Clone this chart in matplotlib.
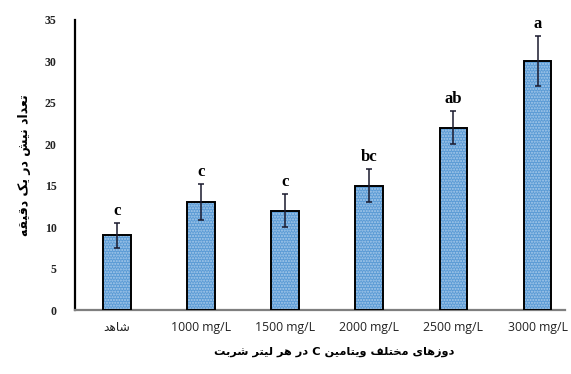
import numpy as np
import matplotlib
matplotlib.use('Agg')
from matplotlib import pyplot as plt

doses = ['شاهد', '1000 mg/L', '1500 mg/L', '2000 mg/L', '2500 mg/L', '3000 mg/L']
stings = [9, 13, 12, 15, 22, 30]
errors = [1.5, 2.2, 2.0, 2.0, 2.0, 3.0]
letters = ['c', 'c', 'c', 'bc', 'ab', 'a']

y_title = 'تعداد نیش در یک دقیقه'
x_title = 'دوزهای مختلف ویتامین C در هر لیتر شربت'

# presentation forms: isolated, final, initial, medial (right-joining letters have only two)
FORMS = {
    'ا': (0xFE8D, 0xFE8E), 'د': (0xFEA9, 0xFEAA), 'ر': (0xFEAD, 0xFEAE),
    'ز': (0xFEAF, 0xFEB0), 'و': (0xFEED, 0xFEEE),
    'ب': (0xFE8F, 0xFE90, 0xFE91, 0xFE92), 'ت': (0xFE95, 0xFE96, 0xFE97, 0xFE98),
    'خ': (0xFEA5, 0xFEA6, 0xFEA7, 0xFEA8), 'ش': (0xFEB5, 0xFEB6, 0xFEB7, 0xFEB8),
    'ع': (0xFEC9, 0xFECA, 0xFECB, 0xFECC), 'ف': (0xFED1, 0xFED2, 0xFED3, 0xFED4),
    'ق': (0xFED5, 0xFED6, 0xFED7, 0xFED8), 'ل': (0xFEDD, 0xFEDE, 0xFEDF, 0xFEE0),
    'م': (0xFEE1, 0xFEE2, 0xFEE3, 0xFEE4), 'ن': (0xFEE5, 0xFEE6, 0xFEE7, 0xFEE8),
    'ه': (0xFEE9, 0xFEEA, 0xFEEB, 0xFEEC), 'ی': (0xFBFC, 0xFBFD, 0xFBFE, 0xFBFF),
    'ک': (0xFB8E, 0xFB8F, 0xFB90, 0xFB91),
}


def shape_word(word):
    out = []
    for i, ch in enumerate(word):
        f = FORMS.get(ch)
        if f is None:
            out.append(ch)
            continue
        prev = word[i - 1] if i > 0 else None
        nxt = word[i + 1] if i < len(word) - 1 else None
        join_prev = prev in FORMS and len(FORMS[prev]) == 4
        join_next = nxt in FORMS and len(f) == 4
        if join_prev and join_next:
            code = f[3]
        elif join_prev:
            code = f[1]
        elif join_next:
            code = f[2]
        else:
            code = f[0]
        out.append(chr(code))
    return ''.join(reversed(out))


def rtl(text):
    # latin-only labels stay as they are
    if not any(ch in FORMS for ch in text):
        return text
    words = []
    for w in reversed(text.split(' ')):
        words.append(shape_word(w) if any(ch in FORMS for ch in w) else w)
    return ' '.join(words)


plt.rcParams['font.family'] = ['DejaVu Sans']

fig = plt.figure(figsize=(5.71, 3.74), dpi=100)
ax = fig.add_axes([0.131, 0.171, 0.859, 0.776])

x = np.arange(len(doses))
width = 0.33
ax.bar(x, stings, width, color='#5B9BD5', edgecolor='#A9CBEB', linewidth=0,
       hatch='......', zorder=2)
ax.bar(x, stings, width, color='none', edgecolor='black', linewidth=1.4, zorder=3)
ax.errorbar(x, stings, yerr=errors, fmt='none', ecolor='#1a1a2e', elinewidth=1.1,
            capsize=2.5, capthick=1.1, zorder=4)

for xi, v, e, lab in zip(x, stings, errors, letters):
    ax.text(xi, v + e + 0.5, lab, ha='center', va='bottom', fontsize=12,
            fontweight='bold', family='Liberation Serif')

ax.set_ylim(0, 35)
ax.set_xlim(-0.5, 5.33)
ax.set_yticks(range(0, 36, 5))
ax.set_yticklabels([str(t) for t in range(0, 36, 5)], family='Liberation Serif',
                   fontsize=8.5, fontweight='bold', color='#222222')
ax.set_xticks(x)
ax.set_xticklabels([rtl(d) for d in doses], fontsize=8.8,
                   family=['Open Sans', 'DejaVu Sans'], color='#222222')
ax.tick_params(axis='x', length=0, pad=8)
ax.tick_params(axis='y', length=0, pad=13)

for s in ['top', 'right']:
    ax.spines[s].set_visible(False)
ax.spines['left'].set_linewidth(1.6)
ax.spines['left'].set_color('black')
ax.spines['bottom'].set_linewidth(1.6)
ax.spines['bottom'].set_color('#7f7f7f')

ax.set_ylabel(rtl(y_title), fontsize=9, fontweight='bold', labelpad=10)
fig.text(0.585, 0.058, rtl(x_title), ha='center', va='center', fontsize=8.2,
         fontweight='bold')

fig.savefig('out.png', dpi=100)
